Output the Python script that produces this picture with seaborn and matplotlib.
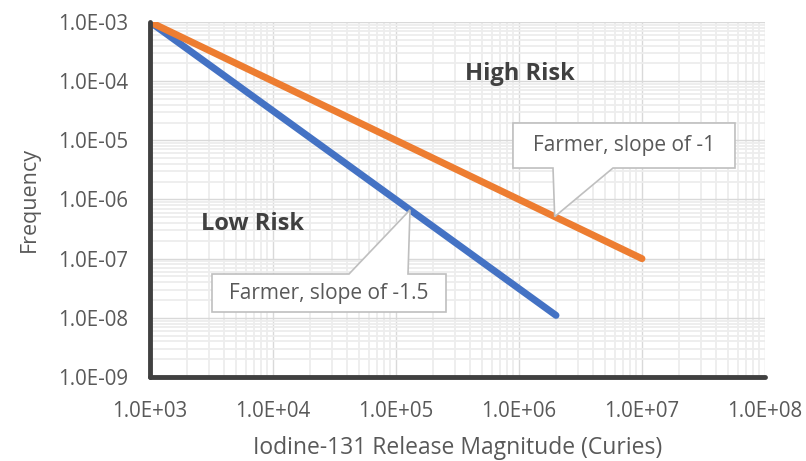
import numpy as np
import pandas as pd
import seaborn as sns
import matplotlib
matplotlib.use("Agg")
import matplotlib.pyplot as plt
from matplotlib.ticker import LogLocator, FuncFormatter, NullFormatter
from matplotlib.patches import Polygon

# ---- data ----
series_names = ["Farmer, slope of -1.5", "Farmer, slope of -1"]
blue_x = [1.0e3, 2.0e6]
blue_y = [1.0e-3, 1.1e-8]
orange_x = [1.0e3, 1.0e7]
orange_y = [1.0e-3, 1.0e-7]
x_ticks = [1e3, 1e4, 1e5, 1e6, 1e7, 1e8]
y_ticks = [1e-9, 1e-8, 1e-7, 1e-6, 1e-5, 1e-4, 1e-3]
region_labels = ["High Risk", "Low Risk"]
callout_tip_x = {"Farmer, slope of -1": 1.95e6, "Farmer, slope of -1.5": 1.30e5}

df = pd.DataFrame({
    "x": blue_x + orange_x,
    "y": blue_y + orange_y,
    "series": [series_names[0]] * len(blue_x) + [series_names[1]] * len(orange_x),
})

sns.set_theme(style="white")
plt.rcParams["font.family"] = ["Open Sans", "DejaVu Sans"]

TXT = "#595959"
fig = plt.figure(figsize=(8.06, 4.61), dpi=100)
W, H = 806, 461
ax = fig.add_axes([150 / W, 84 / H, 615 / W, 355 / H])

palette = {series_names[0]: "#4472C4", series_names[1]: "#ED7D31"}
sns.lineplot(data=df, x="x", y="y", hue="series", palette=palette,
             linewidth=5, legend=False, ax=ax, solid_capstyle="round", zorder=3)

ax.set_xscale("log")
ax.set_yscale("log")
ax.set_xlim(x_ticks[0], x_ticks[-1])
ax.set_ylim(y_ticks[0], y_ticks[-1])
ax.set_xticks(x_ticks)
ax.set_yticks(y_ticks)
fmt = FuncFormatter(lambda v, p: f"{v:.1E}")
ax.xaxis.set_major_formatter(fmt)
ax.yaxis.set_major_formatter(fmt)
ax.xaxis.set_minor_locator(LogLocator(base=10, subs=np.arange(2, 10), numticks=100))
ax.yaxis.set_minor_locator(LogLocator(base=10, subs=np.arange(2, 10), numticks=100))
ax.xaxis.set_minor_formatter(NullFormatter())
ax.yaxis.set_minor_formatter(NullFormatter())

ax.grid(True, which="major", color="#D9D9D9", linewidth=1.0, zorder=0)
ax.grid(True, which="minor", color="#EDEDED", linewidth=1.3, zorder=0)
ax.set_axisbelow(True)

ax.tick_params(axis="both", which="both", length=0, labelsize=14.8, labelcolor=TXT)
ax.tick_params(axis="x", pad=17)
ax.tick_params(axis="y", pad=16)

for s in ["top", "right"]:
    ax.spines[s].set_visible(False)
for s in ["left", "bottom"]:
    ax.spines[s].set_color("#404040")
    ax.spines[s].set_linewidth(3.5)
    ax.spines[s].set_capstyle("round")
    ax.spines[s].set_zorder(4)

ax.set_xlabel("Iodine-131 Release Magnitude (Curies)", fontsize=16.5, color=TXT, labelpad=10)
ax.set_ylabel("Frequency", fontsize=15.5, color=TXT, labelpad=13)

# region labels
ax.text(0.6016, 0.8535, region_labels[0], transform=ax.transAxes, ha="center", va="center",
        fontsize=17, fontweight="bold", color="#404040", zorder=5)
ax.text(0.1659, 0.431, region_labels[1], transform=ax.transAxes, ha="center", va="center",
        fontsize=17, fontweight="bold", color="#404040", zorder=5)


def line_y_at(xs, ys, xq):
    lx, ly = np.log10(xs), np.log10(ys)
    return 10 ** np.interp(np.log10(xq), lx, ly)


def callout(text, tip_data, box, wedge, wedge_side):
    tip_axes = ax.transAxes.inverted().transform(ax.transData.transform(tip_data))
    l, r, b, t = box
    w0, w1 = wedge
    if wedge_side == "bottom":
        verts = [(l, t), (r, t), (r, b), (w1, b), tuple(tip_axes), (w0, b), (l, b)]
    else:
        verts = [(l, t), (w0, t), tuple(tip_axes), (w1, t), (r, t), (r, b), (l, b)]
    poly = Polygon(verts, closed=True, transform=ax.transAxes, facecolor="white",
                   edgecolor="#BFBFBF", linewidth=1.2, zorder=6, clip_on=False)
    ax.add_patch(poly)
    ax.text((l + r) / 2, (b + t) / 2, text, transform=ax.transAxes, ha="center", va="center",
            fontsize=15, color=TXT, zorder=7)


tx1 = callout_tip_x[series_names[1]]
callout(series_names[1], (tx1, line_y_at(orange_x, orange_y, tx1)),
        (0.5902, 0.9512, 0.5887, 0.7155), (0.6553, 0.7528), "bottom")
tx2 = callout_tip_x[series_names[0]]
callout(series_names[0], (tx2, line_y_at(blue_x, blue_y, tx2)),
        (0.1008, 0.4813, 0.1831, 0.2901), (0.3236, 0.4195), "top")

fig.savefig("out.png", dpi=100)
